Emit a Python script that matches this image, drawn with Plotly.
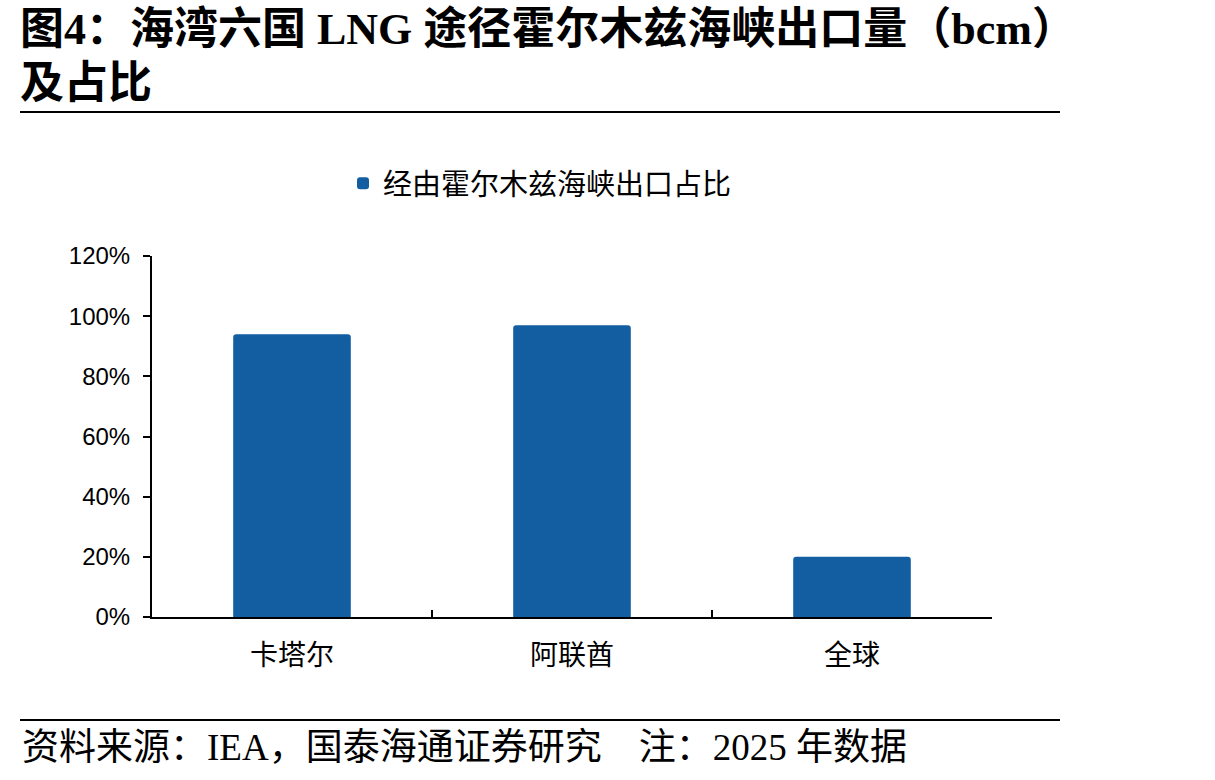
import plotly.graph_objects as go

categories = ["卡塔尔", "阿联酋", "全球"]
share_pct = [0.94, 0.97, 0.20]
series_name = "经由霍尔木兹海峡出口占比"
y_ticks = [0, 0.2, 0.4, 0.6, 0.8, 1.0, 1.2]
y_tick_labels = ["0%", "20%", "40%", "60%", "80%", "100%", "120%"]

W, H = 1215, 780
bar_color = "#125EA1"

fig = go.Figure()
fig.add_trace(go.Bar(
    x=categories, y=share_pct, name=series_name,
    marker=dict(color=bar_color, line=dict(width=0), cornerradius=3),
    width=0.42,
))

sans = "Liberation Sans, Noto Sans CJK SC, sans-serif"
serif = "Liberation Serif, Noto Sans CJK SC, serif"

fig.update_layout(
    width=W, height=H,
    margin=dict(l=0, r=0, t=0, b=0, autoexpand=False),
    paper_bgcolor="white", plot_bgcolor="white",
    showlegend=True,
    legend=dict(
        orientation="h", x=343 / W, y=1 - 158 / H, xanchor="left", yanchor="top",
        font=dict(family=sans, size=29, color="#000"),
        itemwidth=30, bgcolor="rgba(0,0,0,0)",
    ),
    xaxis=dict(
        domain=[152 / W, 992 / W],
        automargin=False,
        showline=True, linecolor="#000", linewidth=2,
        ticks="inside", ticklen=7, tickcolor="#000", tickwidth=1.5,
        tickson="boundaries",
        ticklabelstandoff=12,
        tickfont=dict(family=sans, size=28, color="#000"),
        showgrid=False, zeroline=False,
    ),
    yaxis=dict(
        domain=[(H - 617) / H, (H - 256) / H],
        automargin=False,
        range=[0, 1.2],
        tickvals=y_ticks, ticktext=y_tick_labels,
        showline=True, linecolor="#000", linewidth=2,
        ticks="outside", ticklen=7, tickcolor="#000", tickwidth=1.5,
        ticklabelstandoff=8,
        tickfont=dict(family=sans, size=24, color="#000"),
        showgrid=False, zeroline=False,
    ),
    bargap=0.58,
)

# Title
fig.add_annotation(
    text="<b>图4：海湾六国 LNG 途径霍尔木兹海峡出口量（bcm）</b>",
    x=18 / W, y=1 - 3 / H, xref="paper", yref="paper",
    xanchor="left", yanchor="top", showarrow=False,
    font=dict(family=serif, size=44, color="#000"),
)
fig.add_annotation(
    text="<b>及占比</b>",
    x=18 / W, y=1 - 57 / H, xref="paper", yref="paper",
    xanchor="left", yanchor="top", showarrow=False,
    font=dict(family=serif, size=44, color="#000"),
)
# Footer
fig.add_annotation(
    text="资料来源：IEA，国泰海通证券研究　注：2025 年数据",
    x=20 / W, y=1 - 725 / H, xref="paper", yref="paper",
    xanchor="left", yanchor="top", showarrow=False,
    font=dict(family=serif, size=37, color="#000"),
)
# Rules
for yy in (112, 720):
    fig.add_shape(type="line", xref="paper", yref="paper",
                  x0=20 / W, x1=1060 / W, y0=1 - yy / H, y1=1 - yy / H,
                  line=dict(color="#000", width=2))

fig.write_html("out.html")
